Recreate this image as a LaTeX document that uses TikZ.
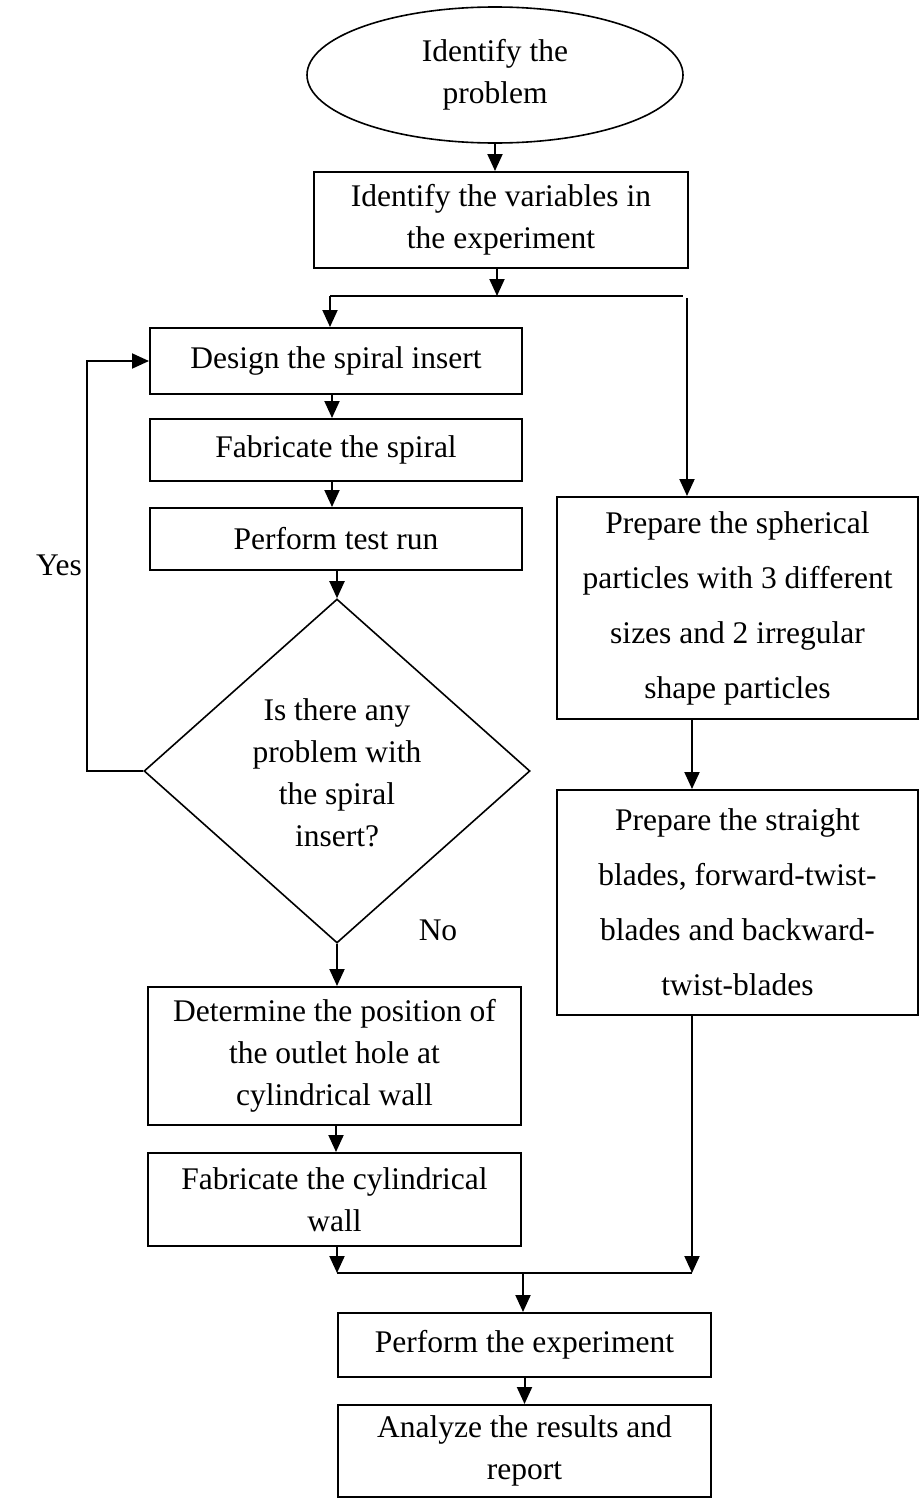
\documentclass[tikz,border=0pt]{standalone}
\usepackage{fontspec}
\setmainfont{Liberation Serif}
\usetikzlibrary{arrows.meta,shapes.geometric}
\begin{document}
\begin{tikzpicture}[x=1pt,y=-1pt,
  every node/.style={font=\fontsize{31.5pt}{42pt}\selectfont},
  line/.style={line width=2pt},
  arr/.style={line width=2pt,-{Triangle[length=17pt,width=15pt]}},
  boxnode/.style={draw,line width=2pt,rectangle,inner sep=0pt,align=center},
  widebox/.style={boxnode,font=\fontsize{31.5pt}{55pt}\selectfont}]
\useasboundingbox (0,0) rectangle (920,1499);
% nodes
\node[draw,line width=1.6pt,ellipse,minimum width=376pt,minimum height=136pt,inner sep=0pt,align=center] (ell) at (495,75) {Identify the\\problem};
\node[boxnode,minimum width=374pt,minimum height=96pt] (box1) at (501,220) {Identify the variables in\\the experiment};
\node[boxnode,minimum width=372pt,minimum height=66pt] (design) at (336,361) {Design the spiral insert};
\node[boxnode,minimum width=372pt,minimum height=62pt] (fab) at (336,450) {Fabricate the spiral};
\node[boxnode,minimum width=372pt,minimum height=62pt] (ptest) at (336,539) {Perform test run};
\node[draw,line width=1.6pt,diamond,minimum width=386pt,minimum height=344pt,inner sep=0pt] (dia) at (337,771) {};
\node[align=center] (diatext) at (337,773) {Is there any\\problem with\\the spiral\\insert?};
\node[boxnode,minimum width=373pt,minimum height=138pt] (det) at (334.5,1056) {Determine the position of\\the outlet hole at\\cylindrical wall};
\node[boxnode,minimum width=373pt,minimum height=93pt] (fabcyl) at (334.5,1199.5) {Fabricate the cylindrical\\wall};
\node[widebox,minimum width=361pt,minimum height=222pt] (prep1) at (737.5,608) {Prepare the spherical\\particles with 3 different\\sizes and 2 irregular\\shape particles};
\node[widebox,minimum width=361pt,minimum height=225pt] (prep2) at (737.5,902.5) {Prepare the straight\\blades, forward-twist-\\blades and backward-\\twist-blades};
\node[boxnode,minimum width=373pt,minimum height=64pt] (perexp) at (524.5,1345) {Perform the experiment};
\node[boxnode,minimum width=373pt,minimum height=92pt] (anal) at (524.5,1451) {Analyze the results and\\report};
\node (yes) at (59,565) {Yes};
\node (no) at (438,930) {No};
% coordinates
\coordinate (s1) at (497,296);
\coordinate (sL) at (330,296);
\coordinate (sR) at (683,296);
\coordinate (rT) at (687,298);
\coordinate (cl) at (332,0);
\coordinate (cd) at (336,0);
\coordinate (cr) at (692,0);
\coordinate (mL) at (337,1273);
\coordinate (mR) at (692,1273);
\coordinate (mC) at (523,1273);
\coordinate (loopx) at (87,0);
% connectors
\draw[arr] (ell.south) -- (ell.south |- box1.north);
\draw[arr] (box1.south -| s1) -- (s1);
\draw[line] (sL) -- (sR);
\draw[arr] (sL) -- (sL |- design.north);
\draw[arr] (rT) -- (rT |- prep1.north);
\draw[arr] (design.south -| cl) -- (fab.north -| cl);
\draw[arr] (fab.south -| cl) -- (ptest.north -| cl);
\draw[arr] (ptest.south -| dia) -- (dia.north);
\draw[arr] (dia.west) -- (dia.west -| loopx) -- (design.west -| loopx) -- (design.west);
\draw[arr] (dia.south) -- (det.north -| dia);
\draw[arr] (det.south -| cd) -- (fabcyl.north -| cd);
\draw[arr] (fabcyl.south -| mL) -- (mL);
\draw[arr] (prep1.south -| cr) -- (prep2.north -| cr);
\draw[arr] (prep2.south -| cr) -- (mR);
\draw[line] (mL) -- (mR);
\draw[arr] (mC) -- (perexp.north -| mC);
\draw[arr] (perexp.south) -- (anal.north);
\end{tikzpicture}
\end{document}
